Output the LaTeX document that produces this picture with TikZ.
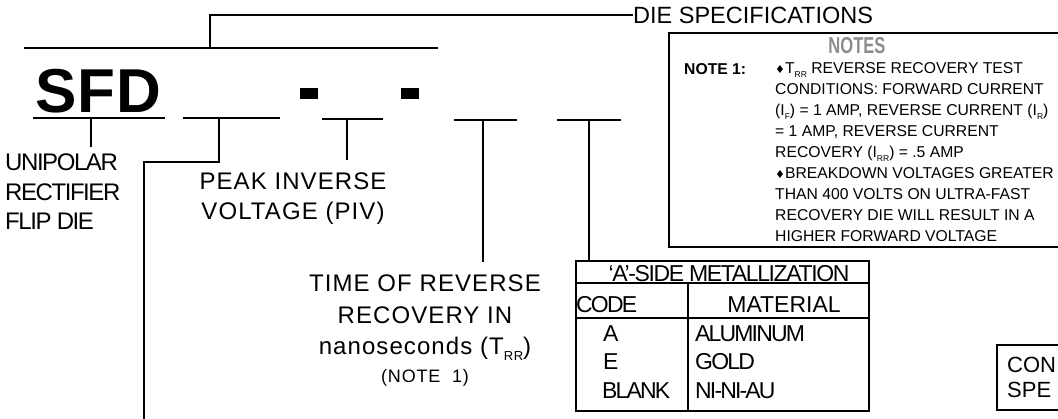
\documentclass[tikz,border=0pt]{standalone}
\usepackage{fontspec}
\setmainfont{Liberation Sans}
\newfontfamily\tightfont[LetterSpace=-6]{Liberation Sans}
\newfontfamily\narrowfont[LetterSpace=-8]{Liberation Sans}
\newfontfamily\widefont[LetterSpace=4.5]{Liberation Sans}
\newfontfamily\sfdfont[LetterSpace=2]{Liberation Sans}
\newfontfamily\symfont{DejaVu Sans}
\usetikzlibrary{positioning}

\newcommand{\dmd}{{\symfont\fontsize{11}{11}\selectfont\char"2666}}
\newcommand{\lowsub}[1]{\raisebox{-0.45ex}{\fontsize{8.5}{9}\selectfont #1}}

\begin{document}
\begin{tikzpicture}[x=1pt, y=-1pt]
    \tikzstyle{line} = [draw, line width=1.8pt]
    \tikzstyle{big} = [inner sep=0pt, font=\widefont\fontsize{24}{29.5}\selectfont]
    \tikzstyle{cell} = [inner sep=0pt, font=\narrowfont\fontsize{23}{24}\selectfont]
    \tikzstyle{note} = [inner sep=0pt, align=left, font=\fontsize{15.7}{21}\selectfont]

    \useasboundingbox (0,0) rectangle (1058,418);
    \clip (0,0) rectangle (1058,418);

    % part number
    \node [anchor=base west, inner sep=0pt, font=\sfdfont\fontsize{62}{70}\selectfont\bfseries] (sfd) at (35,112) {SFD};
    \fill (300,88) rectangle (318,99);
    \fill (401,88) rectangle (419,99);

    % blanks under the part number
    \path [line] (24,48) -- (438,48);
    \path [line] (33,118) -- (165,118);
    \path [line] (183,118) -- (280,118);
    \path [line] (322,119) -- (383,119);
    \path [line] (454,120) -- (517,120);
    \path [line] (557,120) -- (621,120);
    \coordinate (top) at (210,48);
    \coordinate (s0) at (91,118);
    \coordinate (s1) at (219,118);
    \coordinate (s2) at (347,119);
    \coordinate (s3) at (483,120);
    \coordinate (s4) at (589,120);
    \coordinate (bend) at (144,162);
    \coordinate (exit) at (144,420);

    % labels
    \node [inner sep=0pt, anchor=west, font=\fontsize{23.5}{28}\selectfont] (die) at (633,15) {DIE SPECIFICATIONS};
    \node [big, anchor=north west, align=left, font=\tightfont\fontsize{24}{29.5}\selectfont] (uni) at (5,154) {UNIPOLAR\\RECTIFIER\\FLIP DIE};
    \node [big, anchor=north, align=center] (piv) at (293,173) {PEAK INVERSE\\VOLTAGE (PIV)};
    \node [big, anchor=north, align=center, font=\widefont\fontsize{24}{31.5}\selectfont] (trr) at (425,275) {TIME OF REVERSE\\RECOVERY IN\\nanoseconds (T\lowsub{\fontsize{13}{13}\selectfont RR})};
    \node [inner sep=0pt, below=8pt of trr, font=\widefont\fontsize{18}{20}\selectfont] (n1) {(NOTE\ \ 1)};

    % notes
    \draw [line width=1.8pt] (669,33) rectangle (1075,247);
    \node [inner sep=0pt, anchor=north, text=black!45, font=\fontsize{23}{26}\selectfont\bfseries] (ntitle) at (857,37) {\scalebox{0.72}[1]{NOTES}};
    \node [note, anchor=base west, font=\fontsize{15.7}{21}\selectfont\bfseries] (nlbl) at (684,74) {NOTE 1:};
    \node [note, anchor=north west] (ntext) at (775,62.8) {\dmd T\lowsub{RR} REVERSE RECOVERY TEST\\
        CONDITIONS: FORWARD CURRENT\\
        (I\lowsub{F}) = 1 AMP, REVERSE CURRENT (I\lowsub{R})\\
        = 1 AMP, REVERSE CURRENT\\
        RECOVERY (I\lowsub{RR}) = .5 AMP\\
        \dmd BREAKDOWN VOLTAGES GREATER\\
        THAN 400 VOLTS ON ULTRA-FAST\\
        RECOVERY DIE WILL RESULT IN A\\
        HIGHER FORWARD VOLTAGE};

    % metallization table
    \node [draw, line width=1.8pt, anchor=north west, minimum width=293pt, minimum height=150pt, inner sep=0pt] (tbl) at (575,260) {};
    \path [line] (575,283) -- (868,283);
    \path [line] (575,318) -- (868,318);
    \path [line] (688,283) -- (688,410);
    \node [cell, anchor=base, font=\tightfont\fontsize{23}{24}\selectfont] (thead) at (729,281) {‘A’-SIDE METALLIZATION};
    \node [cell, anchor=base west] (tcode) at (576,312) {CODE};
    \node [cell, anchor=base, font=\fontsize{23}{24}\selectfont] (tmat) at (784,312) {MATERIAL};
    \node [cell, anchor=base west] (ca) at (603,341) {A};
    \node [cell, anchor=base west] (ce) at (603,369) {E};
    \node [cell, anchor=base west] (cb) at (602,398) {BLANK};
    \node [cell, anchor=base west] (ma) at (695,341) {ALUMINUM};
    \node [cell, anchor=base west] (me) at (695,369) {GOLD};
    \node [cell, anchor=base west] (mb) at (695,398) {NI-NI-AU};

    % contact box
    \node [draw, line width=1.8pt, anchor=north west, minimum width=100pt, minimum height=65pt, inner sep=0pt] (cbox) at (996,344) {};
    \node [inner sep=0pt, anchor=north west, align=left, font=\fontsize{22}{25}\selectfont] (con) at (1007,357) {CON\\SPE};

    % connectors
    \path [line] (top) -- (top |- die.west) -- (die.west);
    \path [line, shorten >=7pt] (s0) -- (s0 |- uni.north);
    \path [line] (s1) |- (bend) -- (exit);
    \path [line, shorten >=13pt] (s2) -- (s2 |- piv.north);
    \path [line, shorten >=13pt] (s3) -- (s3 |- trr.north);
    \path [line] (s4) -- (s4 |- tbl.north);
\end{tikzpicture}
\end{document}
